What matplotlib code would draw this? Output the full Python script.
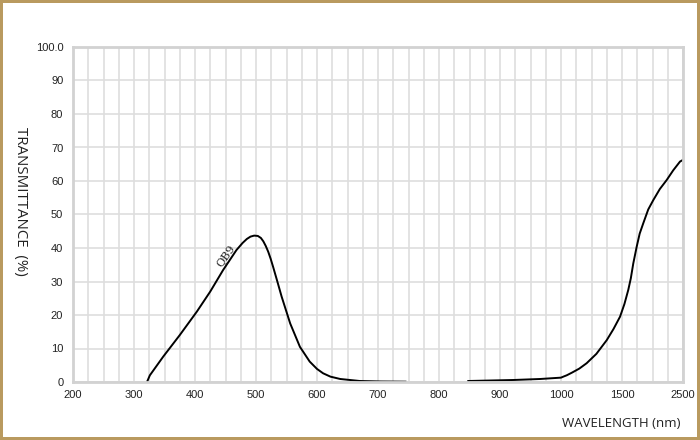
import numpy as np
import matplotlib
matplotlib.use('Agg')
import matplotlib.pyplot as plt

plt.rcParams['font.family'] = ['Liberation Sans', 'DejaVu Sans']

# 横轴刻度（非均匀：200-1000 每100，然后 1500、2500）
tick_values = [200, 300, 400, 500, 600, 700, 800, 900, 1000, 1500, 2500]
tick_labels = ['200', '300', '400', '500', '600', '700', '800', '900', '1000', '1500', '2500']
y_ticks = [0, 10, 20, 30, 40, 50, 60, 70, 80, 90, 100]
y_labels = ['0', '10', '20', '30', '40', '50', '60', '70', '80', '90', '100.0']

# QB9 透过率曲线（两段，中间有断开）
wl_vis = [322, 326, 348, 375, 403, 425, 446, 468, 478, 485, 491, 497, 503, 508, 512, 516,
          520, 524, 528, 535, 542, 556, 572, 588, 600, 610, 622, 638, 670, 705, 745]
tr_vis = [0.3, 2.0, 7.6, 14.0, 21.0, 27.0, 33.4, 39.4, 41.5, 42.7, 43.4, 43.7, 43.6, 43.0, 42.0, 40.6,
          38.9, 36.8, 34.4, 30.0, 25.5, 17.5, 10.5, 6.1, 3.9, 2.6, 1.6, 0.9, 0.3, 0.15, 0.1]
wl_ir = [848, 922, 966, 1000, 1019, 1047, 1090, 1150, 1210, 1290, 1375, 1430, 1484, 1540,
         1603, 1645, 1685, 1741, 1790, 1849, 1930, 2013, 2120, 2233, 2340, 2451, 2500]
tr_ir = [0.3, 0.6, 0.9, 1.3, 1.6, 2.0, 2.8, 4.0, 5.6, 8.4, 12.5, 15.8, 19.5, 23.3,
         27.5, 31.0, 35.4, 40.4, 44.3, 47.4, 51.5, 54.3, 57.6, 60.3, 63.2, 65.8, 66.3]

# 分段线性坐标：每个刻度等间距
tick_pos = np.arange(len(tick_values), dtype=float)


def fwd(x):
    return np.interp(x, tick_values, tick_pos)


def inv(u):
    return np.interp(u, tick_pos, tick_values)


fig = plt.figure(figsize=(7, 4.4), dpi=100)
fig.patch.set_edgecolor('#b99a5f')
fig.patch.set_linewidth(3)
ax = fig.add_axes([73 / 700, 1 - 382 / 440, 610 / 700, 335 / 440])

ax.set_xscale('function', functions=(fwd, inv))
ax.set_xlim(200, 2500)
ax.set_ylim(0, 100)

# 网格：可见区 25nm 一格，红外区更稀
minor = list(np.arange(200, 1000, 25)) + list(np.arange(1000, 1500, 125)) + list(np.arange(1500, 2501, 250))
ax.set_xticks(minor, minor=True)
ax.set_xticks(tick_values)
ax.set_xticklabels(tick_labels, fontsize=8, color='#222222')
ax.set_yticks(y_ticks)
ax.set_yticklabels(y_labels, fontsize=8, color='#222222')
ax.tick_params(which='both', length=0)
ax.tick_params(axis='x', pad=6)
ax.tick_params(axis='y', pad=7)
ax.grid(True, which='both', color='#dedede', linewidth=1.2)
ax.set_axisbelow(True)

for s in ax.spines.values():
    s.set_color('#d2d2d2')
    s.set_linewidth(2)

ax.plot(wl_vis, tr_vis, color='black', linewidth=1.4)
ax.plot(wl_ir, tr_ir, color='black', linewidth=1.4)

ax.text(452, 37.5, 'QB9', rotation=55, fontsize=8, family='DejaVu Serif',
        ha='center', va='center', color='#222222')

fig.text(20 / 700, 1 - 201 / 440, 'TRANSMITTANCE  (%)', rotation=270,
         ha='center', va='center', fontsize=10.8, family='Open Sans', color='#222222')
fig.text(681 / 700, 1 - 423 / 440, 'WAVELENGTH (nm)', ha='right', va='center',
         fontsize=9.5, family='Open Sans', color='#222222')

fig.savefig('out.png', dpi=100)
plt.close(fig)
